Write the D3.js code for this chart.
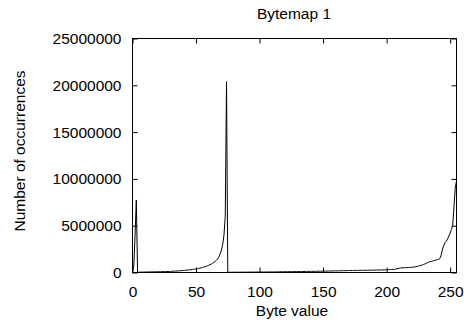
<!DOCTYPE html>
<html>
<head>
<meta charset="utf-8">
<script src="https://cdn.jsdelivr.net/npm/d3@7"></script>
<style>
  body { margin: 0; background: #fff; }
  text { font-family: "Liberation Sans", Arial, sans-serif; fill: #000; }
</style>
</head>
<body>
<div id="chart"></div>
<script>
// byte counts, in thousands, for byte values 0..255
var counts = [
  150, 700, 3900, 7750, 30, 35, 38, 42, 45, 48, 52, 55, 58, 60, 63, 66,
  69, 72, 75, 78, 80, 83, 86, 89, 92, 95, 99, 103, 107, 111, 120, 128,
  136, 145, 155, 165, 175, 185, 195, 205, 220, 230, 240, 250, 270, 280, 300, 320,
  340, 360, 380, 400, 430, 460, 490, 530, 570, 610, 660, 710, 770, 830, 900, 980,
  1070, 1170, 1300, 1450, 1650, 2000, 2400, 3000, 4000, 6000, 20400, 25, 26, 27, 28, 29,
  30, 31, 32, 33, 34, 35, 36, 37, 38, 39, 40, 41, 42, 43, 44, 45,
  46, 47, 48, 49, 50, 51, 52, 53, 54, 55, 56, 57, 58, 59, 60, 62,
  64, 66, 68, 70, 72, 74, 76, 78, 80, 82, 84, 86, 88, 90, 92, 94,
  96, 98, 100, 102, 104, 106, 108, 110, 112, 114, 116, 118, 120, 122, 124, 126,
  128, 130, 133, 136, 139, 142, 145, 148, 151, 154, 157, 160, 163, 166, 169, 172,
  175, 178, 181, 184, 187, 190, 193, 196, 199, 202, 205, 208, 211, 214, 217, 220,
  222, 224, 226, 228, 230, 232, 234, 236, 238, 240, 243, 246, 249, 252, 255, 258,
  261, 264, 267, 270, 273, 276, 280, 285, 290, 300, 310, 315, 320, 330, 340, 360,
  400, 430, 460, 480, 500, 505, 510, 515, 520, 530, 540, 550, 560, 580, 600, 620,
  650, 690, 720, 760, 800, 850, 900, 980, 1050, 1100, 1150, 1190, 1220, 1260, 1300, 1340,
  1380, 1420, 1500, 1900, 2500, 2900, 3200, 3350, 3600, 3900, 4200, 4600, 5000, 7000, 9000, 9800
];
var xTicks = [0, 50, 100, 150, 200, 250];
var yTicks = [0, 5000000, 10000000, 15000000, 20000000, 25000000];

var margin = {top: 38, right: 8, bottom: 57, left: 132},
    width = 464 - margin.left - margin.right,
    height = 329 - margin.top - margin.bottom;

var x = d3.scaleLinear().domain([0, 255]).range([0, width]);
var y = d3.scaleLinear().domain([0, 25000000]).range([height, 0]);

var root = d3.select("#chart").append("svg")
    .attr("width", 464)
    .attr("height", 329);

var svg = root.append("g")
    .attr("transform", "translate(" + (margin.left + 0.5) + "," + (margin.top + 0.5) + ")");

// axes, ticks point inwards and are mirrored on top/right
function styleAxis(g) {
  g.select(".domain").remove();
  g.selectAll(".tick line").attr("stroke", "#000");
  g.selectAll("text").style("font-size", "15.5px").attr("fill", "#000");
}

svg.append("g")
    .attr("transform", "translate(0," + height + ")")
    .call(d3.axisBottom(x).tickValues(xTicks).tickSize(-5).tickPadding(13).tickFormat(d3.format("d")))
    .call(styleAxis);

svg.append("g")
    .call(d3.axisTop(x).tickValues(xTicks).tickSize(-5).tickFormat(""))
    .call(styleAxis);

svg.append("g")
    .call(d3.axisLeft(y).tickValues(yTicks).tickSize(-5).tickPadding(11).tickFormat(d3.format("d")))
    .call(styleAxis);

svg.append("g")
    .attr("transform", "translate(" + width + ",0)")
    .call(d3.axisRight(y).tickValues(yTicks).tickSize(-5).tickFormat(""))
    .call(styleAxis);

// data line
var line = d3.line()
    .x(function(d, i) { return x(i); })
    .y(function(d) { return y(d * 1000); });

svg.append("path")
    .datum(counts)
    .attr("fill", "none")
    .attr("stroke", "#000")
    .attr("stroke-width", 1)
    .attr("d", line);

// border
svg.append("rect")
    .attr("width", width)
    .attr("height", height)
    .attr("fill", "none")
    .attr("stroke", "#000");

// title and labels
root.append("text")
    .attr("x", margin.left + width / 2)
    .attr("y", 19)
    .attr("text-anchor", "middle")
    .style("font-size", "15.5px")
    .text("Bytemap 1");

root.append("text")
    .attr("x", margin.left + width / 2 - 2)
    .attr("y", 316)
    .attr("text-anchor", "middle")
    .style("font-size", "15.5px")
    .text("Byte value");

root.append("text")
    .attr("transform", "translate(24.5," + 151 + ") rotate(-90)")
    .attr("text-anchor", "middle")
    .style("font-size", "15.5px")
    .text("Number of occurrences");
</script>
</body>
</html>
